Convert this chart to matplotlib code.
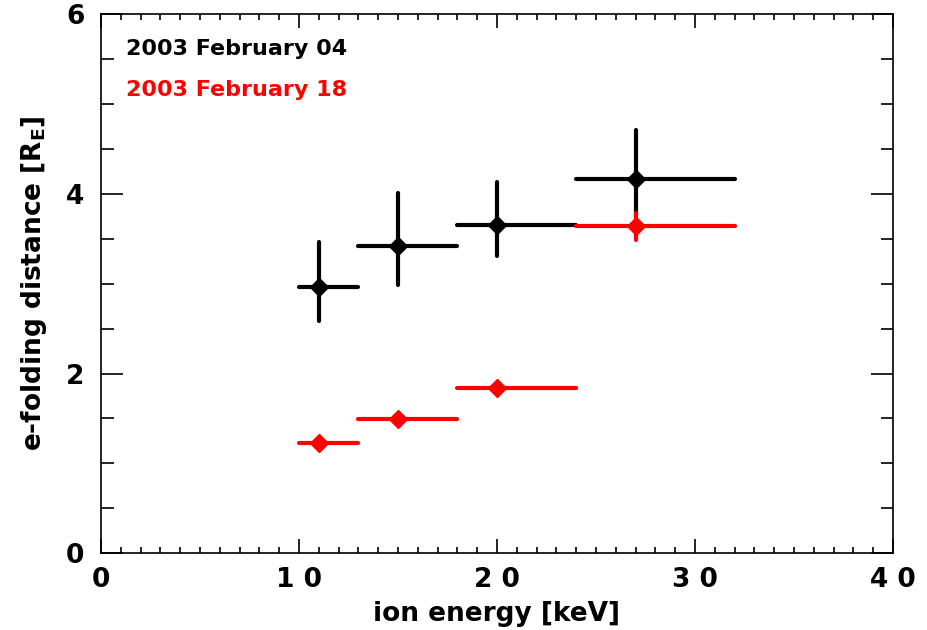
import numpy as np
import matplotlib.pyplot as plt
from matplotlib.ticker import MultipleLocator, FixedLocator, FixedFormatter

plt.rcParams['font.family'] = ['DejaVu Sans']
plt.rcParams['font.weight'] = 'bold'
plt.rcParams['axes.labelweight'] = 'bold'
plt.rcParams['mathtext.default'] = 'bf'

# energy bins [keV]
e_lo = [10, 13, 18, 24]
e_hi = [13, 18, 24, 32]
e_mid = [11, 15, 20, 27]

# 2003 February 04
feb04 = [2.96, 3.42, 3.65, 4.17]
feb04_up = [0.51, 0.59, 0.48, 0.54]
feb04_dn = [0.37, 0.43, 0.34, 0.40]

# 2003 February 18
feb18 = [1.23, 1.49, 1.835, 3.64]
feb18_up = [0.03, 0.03, 0.03, 0.15]
feb18_dn = [0.03, 0.03, 0.03, 0.15]

xticks = [0, 10, 20, 30, 40]
xticklabels = ["0", "1 0", "2 0", "3 0", "4 0"]
yticks = [0, 2, 4, 6]

fig = plt.figure(figsize=(9.28, 6.3), dpi=100)
ax = fig.add_axes([0.1088, 0.1222, 0.8535, 0.8548])


def draw(mid, lo, hi, val, up, dn, color):
    mid = np.array(mid)
    xerr = [mid - np.array(lo), np.array(hi) - mid]
    _, _, bars = ax.errorbar(mid, val, xerr=xerr, yerr=[dn, up], fmt='D',
                             color=color, ms=9.5, elinewidth=3, capsize=0)
    for b in bars:
        b.set_capstyle('round')


draw(e_mid, e_lo, e_hi, feb04, feb04_up, feb04_dn, 'black')
draw(e_mid, e_lo, e_hi, feb18, feb18_up, feb18_dn, 'red')

ax.set_xlim(0, 40)
ax.set_ylim(0, 6)
ax.xaxis.set_major_locator(FixedLocator(xticks))
ax.xaxis.set_major_formatter(FixedFormatter(xticklabels))
ax.xaxis.set_minor_locator(MultipleLocator(1))
ax.yaxis.set_major_locator(FixedLocator(yticks))
ax.yaxis.set_minor_locator(MultipleLocator(0.5))
ax.tick_params(which='both', direction='in', top=True, right=True,
               labelsize=19, width=1.2)
ax.tick_params(axis='x', which='major', length=10, pad=10)
ax.tick_params(axis='x', which='minor', length=4)
ax.tick_params(axis='y', which='major', length=16, pad=12)
ax.tick_params(axis='y', which='minor', length=9)
for s in ax.spines.values():
    s.set_linewidth(1.2)

ax.set_xlabel("ion energy [keV]", fontsize=19, labelpad=6)
ax.set_ylabel("e-folding distance [R$_E$]", fontsize=19, labelpad=12)

ax.text(0.032, 0.935, "2003 February 04", transform=ax.transAxes,
        fontsize=16, color='black', va='center')
ax.text(0.032, 0.86, "2003 February 18", transform=ax.transAxes,
        fontsize=16, color='red', va='center')

fig.savefig("out.png", dpi=100)
